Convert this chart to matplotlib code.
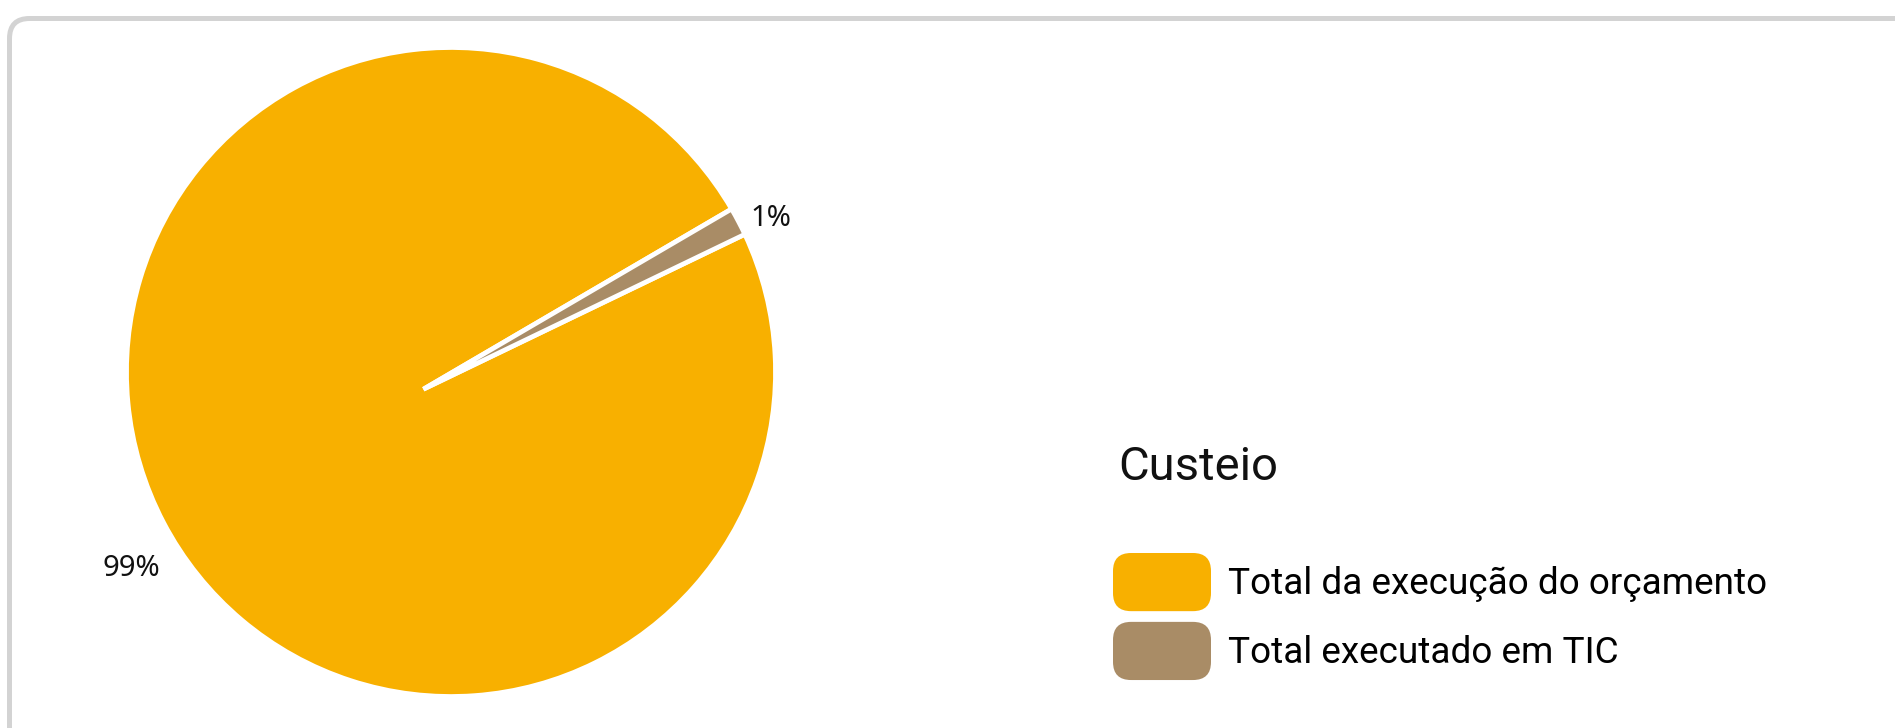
import numpy as np
import matplotlib
matplotlib.use("Agg")
from matplotlib import pyplot as plt
from matplotlib.patches import FancyBboxPatch, Wedge
from matplotlib.path import Path
from matplotlib.legend_handler import HandlerPatch
from matplotlib.transforms import IdentityTransform

# data
labels = ["Total da execução do orçamento", "Total executado em TIC"]
values = [98.6, 1.4]
colors = ["#F8B000", "#A98C66"]
legend_title = "Custeio"

W, H = 1895, 728
fig = plt.figure(figsize=(W / 100, H / 100), dpi=100)
fig.patch.set_facecolor("white")

# rounded grey card border (runs off the right and bottom edges)
card = FancyBboxPatch((9.5, -30), W + 40, H - 18.5 + 30,
                      boxstyle="round,pad=0,rounding_size=20",
                      transform=IdentityTransform(), facecolor="none",
                      edgecolor="#D3D3D3", linewidth=3.6)
fig.patches.append(card)

# pie axes, placed in pixels
cx, cy, r = 451, 728 - 372, 324.5
ax = fig.add_axes([(cx - r) / W, (cy - r) / H, 2 * r / W, 2 * r / H])

wedges, texts = ax.pie(values, colors=colors, startangle=30.15,
                       labels=[f"{v:.0f}%" for v in values],
                       labeldistance=1.04,
                       wedgeprops=dict(edgecolor="white", linewidth=3.4),
                       textprops=dict(fontsize=21, family="Noto Sans", color="#111111"))
ax.set_xlim(-1, 1)
ax.set_ylim(-1, 1)
ax.set_aspect("equal")
ax.axis("off")

# the slices meet a bit off-centre in the original
apex = np.array([-0.085, -0.053])
for w in wedges:
    p = w.get_path()
    v = p.vertices.copy()
    m = np.all(np.isclose(v, w.center), axis=1)
    v[m] = apex
    w._path = Path(v, p.codes)

for t in texts:
    t.set_va("center_baseline")

# the big label sits lower than the mid angle
a = np.deg2rad(213.6)
texts[0].set_position((1.075 * np.cos(a), 1.075 * np.sin(a)))
texts[0].set_ha("right")


class RoundBox(HandlerPatch):
    def create_artists(self, legend, orig_handle, xdescent, ydescent,
                       width, height, fontsize, trans):
        p = FancyBboxPatch((-xdescent, -ydescent), width, height,
                           boxstyle="round,pad=0,rounding_size=13",
                           facecolor=orig_handle.get_facecolor(),
                           edgecolor="none", transform=trans)
        return [p]


fs = 26.6
leg = fig.legend(wedges, labels, loc="upper left",
                 bbox_to_anchor=(1113 / W, 1 - 553 / H),
                 frameon=False, borderaxespad=0, borderpad=0,
                 handlelength=98 / (fs * 100 / 72), handleheight=2.045,
                 handletextpad=0.45, labelspacing=0.29,
                 prop=dict(family="Roboto", size=fs),
                 handler_map={Wedge: RoundBox()})

fig.text(1118 / W, 1 - 480 / H, legend_title, family="Roboto", fontsize=34,
         ha="left", va="baseline", color="#111111")

fig.savefig("out.png", dpi=100)
